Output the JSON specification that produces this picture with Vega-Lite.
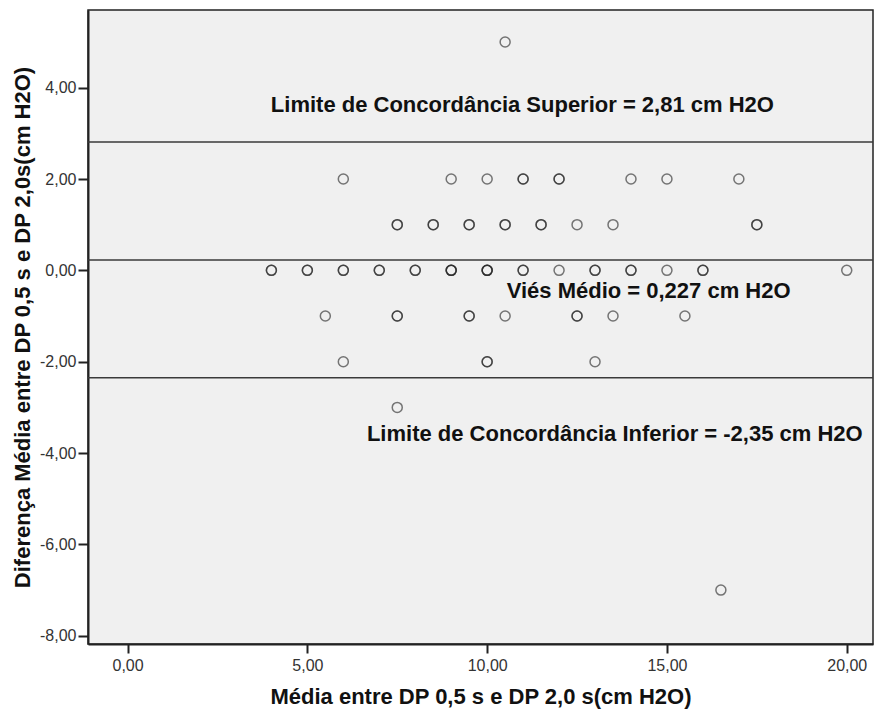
{
  "$schema": "https://vega.github.io/schema/vega-lite/v6.json",
  "width": 785,
  "height": 634,
  "autosize": {"type": "none"},
  "padding": {"left": 88, "top": 10, "right": 2, "bottom": 69},
  "background": "#ffffff",
  "config": {
    "view": {"fill": "#f0f0f0", "stroke": "#222222", "strokeWidth": 1.5},
    "font": "Liberation Sans",
    "axis": {
      "grid": false,
      "domainColor": "#222222",
      "domainWidth": 2,
      "tickColor": "#222222",
      "tickWidth": 2,
      "tickSize": 9,
      "labelFont": "Liberation Sans",
      "labelFontSize": 16,
      "labelColor": "#333333",
      "titleFont": "Liberation Sans",
      "titleFontSize": 22,
      "titleFontWeight": "bold",
      "titleColor": "#111111"
    }
  },
  "datasets": {
    "points": [
      {"media": 10.5, "dif": 5},
      {"media": 6, "dif": 2}, {"media": 9, "dif": 2}, {"media": 10, "dif": 2},
      {"media": 11, "dif": 2}, {"media": 11, "dif": 2},
      {"media": 12, "dif": 2}, {"media": 12, "dif": 2},
      {"media": 14, "dif": 2}, {"media": 15, "dif": 2}, {"media": 17, "dif": 2},
      {"media": 7.5, "dif": 1}, {"media": 7.5, "dif": 1},
      {"media": 8.5, "dif": 1}, {"media": 8.5, "dif": 1},
      {"media": 9.5, "dif": 1}, {"media": 9.5, "dif": 1},
      {"media": 10.5, "dif": 1}, {"media": 10.5, "dif": 1},
      {"media": 11.5, "dif": 1}, {"media": 11.5, "dif": 1},
      {"media": 12.5, "dif": 1}, {"media": 13.5, "dif": 1},
      {"media": 17.5, "dif": 1}, {"media": 17.5, "dif": 1},
      {"media": 4, "dif": 0}, {"media": 4, "dif": 0},
      {"media": 5, "dif": 0}, {"media": 5, "dif": 0},
      {"media": 6, "dif": 0}, {"media": 6, "dif": 0},
      {"media": 7, "dif": 0}, {"media": 7, "dif": 0},
      {"media": 8, "dif": 0}, {"media": 8, "dif": 0},
      {"media": 9, "dif": 0}, {"media": 9, "dif": 0}, {"media": 9, "dif": 0},
      {"media": 10, "dif": 0}, {"media": 10, "dif": 0}, {"media": 10, "dif": 0},
      {"media": 11, "dif": 0}, {"media": 11, "dif": 0},
      {"media": 12, "dif": 0},
      {"media": 13, "dif": 0}, {"media": 13, "dif": 0},
      {"media": 14, "dif": 0}, {"media": 14, "dif": 0},
      {"media": 15, "dif": 0},
      {"media": 16, "dif": 0}, {"media": 16, "dif": 0},
      {"media": 20, "dif": 0},
      {"media": 5.5, "dif": -1},
      {"media": 7.5, "dif": -1}, {"media": 7.5, "dif": -1},
      {"media": 9.5, "dif": -1}, {"media": 9.5, "dif": -1},
      {"media": 10.5, "dif": -1},
      {"media": 12.5, "dif": -1}, {"media": 12.5, "dif": -1},
      {"media": 13.5, "dif": -1}, {"media": 15.5, "dif": -1},
      {"media": 6, "dif": -2},
      {"media": 10, "dif": -2}, {"media": 10, "dif": -2},
      {"media": 13, "dif": -2},
      {"media": 7.5, "dif": -3},
      {"media": 16.5, "dif": -7}
    ],
    "lines": [
      {"valor": 2.81},
      {"valor": 0.227},
      {"valor": -2.35}
    ],
    "labels": [
      {"lx": 10.98, "ly": 3.61, "texto": "Limite de Concordância Superior = 2,81 cm H2O"},
      {"lx": 14.49, "ly": -0.46, "texto": "Viés Médio = 0,227 cm H2O"},
      {"lx": 13.55, "ly": -3.59, "texto": "Limite de Concordância Inferior = -2,35 cm H2O"}
    ]
  },
  "layer": [
    {
      "data": {"name": "points"},
      "mark": {"type": "point", "shape": "circle", "filled": false, "size": 100, "strokeWidth": 1.5, "color": "#222222", "opacity": 0.6},
      "encoding": {
        "x": {
          "field": "media", "type": "quantitative",
          "scale": {"domain": [-1.1, 20.73], "nice": false, "zero": false},
          "axis": {
            "values": [0, 5, 10, 15, 20],
            "labelExpr": "replace(replace(format(datum.value, '.2f'), '.', ','), '\u2212', '-')",
            "labelPadding": 4,
            "title": "Média entre DP 0,5 s e DP 2,0 s(cm H2O)",
            "titlePadding": 13
          }
        },
        "y": {
          "field": "dif", "type": "quantitative",
          "scale": {"domain": [-8.18, 5.7], "nice": false, "zero": false},
          "axis": {
            "values": [-8, -6, -4, -2, 0, 2, 4],
            "labelExpr": "replace(replace(format(datum.value, '.2f'), '.', ','), '\u2212', '-')",
            "labelPadding": 2,
            "tickSize": 10,
            "title": "Diferença Média entre DP 0,5 s e DP 2,0s(cm H2O)",
            "titlePadding": 5
          }
        }
      }
    },
    {
      "data": {"name": "lines"},
      "mark": {"type": "rule", "color": "#3a3a3a", "strokeWidth": 1.5},
      "encoding": {
        "y": {"field": "valor", "type": "quantitative"}
      }
    },
    {
      "data": {"name": "labels"},
      "mark": {"type": "text", "font": "Liberation Sans", "fontSize": 22, "fontWeight": "bold", "color": "#111111", "align": "center", "baseline": "middle"},
      "encoding": {
        "x": {"field": "lx", "type": "quantitative"},
        "y": {"field": "ly", "type": "quantitative"},
        "text": {"field": "texto"}
      }
    }
  ]
}
